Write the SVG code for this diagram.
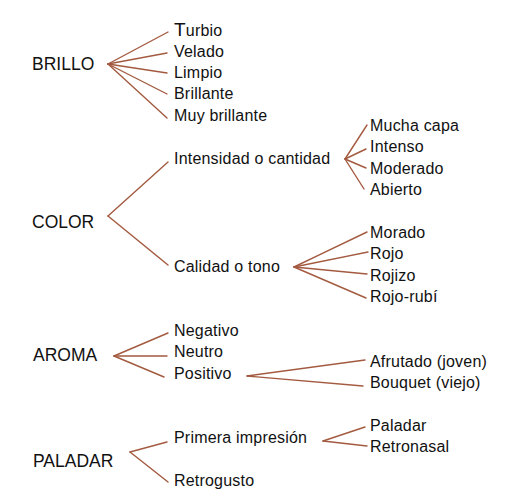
<svg xmlns="http://www.w3.org/2000/svg" width="526" height="499" viewBox="0 0 526 499">
  <style>
    text { font-family: "Liberation Sans", Arial, sans-serif; fill: #111; }
    .root { font-size: 17.5px; }
    .item { font-size: 16px; letter-spacing: 0.2px; }
    #connectors line { stroke: #a35a40; stroke-width: 1.4; stroke-linecap: round; }
  </style>
  <rect width="526" height="499" fill="#fff"/>

  <g id="connectors">
    <!-- BRILLO -->
    <line x1="108" y1="64" x2="168" y2="32"/>
    <line x1="108" y1="64" x2="167" y2="53"/>
    <line x1="108" y1="64" x2="167" y2="73"/>
    <line x1="108" y1="64" x2="167" y2="94"/>
    <line x1="108" y1="64" x2="167" y2="118"/>
    <!-- COLOR -->
    <line x1="108" y1="216" x2="168" y2="162"/>
    <line x1="108" y1="216" x2="168" y2="265"/>
    <!-- Intensidad o cantidad -->
    <line x1="345" y1="159" x2="367" y2="125"/>
    <line x1="345" y1="159" x2="366" y2="149"/>
    <line x1="345" y1="159" x2="366" y2="168"/>
    <line x1="345" y1="159" x2="364" y2="189"/>
    <!-- Calidad o tono -->
    <line x1="294" y1="267" x2="367" y2="232"/>
    <line x1="294" y1="267" x2="368" y2="252"/>
    <line x1="294" y1="267" x2="367" y2="274"/>
    <line x1="294" y1="267" x2="366" y2="298"/>
    <!-- AROMA -->
    <line x1="114" y1="356" x2="168" y2="333"/>
    <line x1="114" y1="356" x2="167" y2="356"/>
    <line x1="114" y1="356" x2="164" y2="377"/>
    <!-- Positivo -->
    <line x1="247" y1="376" x2="365" y2="360"/>
    <line x1="247" y1="376" x2="363" y2="386"/>
    <!-- PALADAR -->
    <line x1="130" y1="452" x2="167" y2="442"/>
    <line x1="130" y1="452" x2="168" y2="482"/>
    <!-- Primera impresión -->
    <line x1="323" y1="441" x2="365" y2="427"/>
    <line x1="323" y1="441" x2="367" y2="446"/>
  </g>

  <g id="brillo">
    <text class="root" x="32" y="70">BRILLO</text>
    <text class="item" x="174" y="36"><tspan font-size="19">T</tspan>urbio</text>
    <text class="item" x="174" y="57">Velado</text>
    <text class="item" x="174" y="78">Limpio</text>
    <text class="item" x="174" y="99">Brillante</text>
    <text class="item" x="174" y="121">Muy brillante</text>
  </g>

  <g id="color">
    <text class="root" x="32" y="228">COLOR</text>
    <text class="item" x="174" y="164">Intensidad o cantidad</text>
    <text class="item" x="174" y="272">Calidad o tono</text>
  </g>

  <g id="intensidad">
    <text class="item" x="370" y="131">Mucha capa</text>
    <text class="item" x="370" y="152">Intenso</text>
    <text class="item" x="370" y="174">Moderado</text>
    <text class="item" x="370" y="195">Abierto</text>
  </g>

  <g id="tono">
    <text class="item" x="370" y="238">Morado</text>
    <text class="item" x="370" y="259">Rojo</text>
    <text class="item" x="370" y="281">Rojizo</text>
    <text class="item" x="370" y="302">Rojo-rubí</text>
  </g>

  <g id="aroma">
    <text class="root" x="33" y="361">AROMA</text>
    <text class="item" x="174" y="336">Negativo</text>
    <text class="item" x="174" y="357">Neutro</text>
    <text class="item" x="174" y="379">Positivo</text>
  </g>

  <g id="positivo">
    <text class="item" x="370" y="367">Afrutado (joven)</text>
    <text class="item" x="370" y="388">Bouquet (viejo)</text>
  </g>

  <g id="paladar">
    <text class="root" x="33" y="467">PALADAR</text>
    <text class="item" x="174" y="443">Primera impresión</text>
    <text class="item" x="174" y="486">Retrogusto</text>
  </g>

  <g id="impresion">
    <text class="item" x="370" y="431">Paladar</text>
    <text class="item" x="370" y="452">Retronasal</text>
  </g>
</svg>
